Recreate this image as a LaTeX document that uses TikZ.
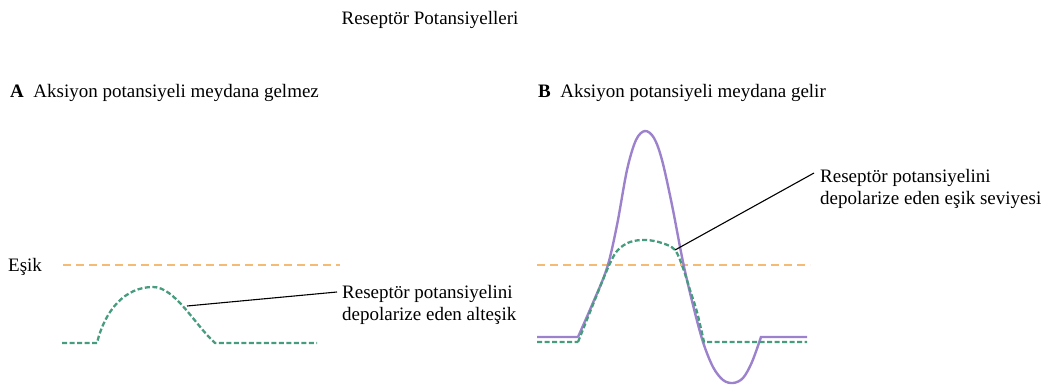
\documentclass[tikz,border=0pt]{standalone}
\usepackage{fontspec}
\setmainfont{Liberation Serif}
\begin{document}
\begin{tikzpicture}[x=1pt,y=-1pt,
  txt/.style={inner sep=0pt,font=\fontsize{19}{22}\selectfont},
  lbl/.style={txt,align=left,anchor=north west},
  thr/.style={draw=orangeT,line width=2.3pt,dash pattern=on 8pt off 5pt},
  rp/.style={draw=greenT,line width=2.3pt,dash pattern=on 5pt off 2.5pt},
  ap/.style={draw=purpleT,line width=2.4pt},
  lead/.style={draw=black,line width=1.1pt}]
\definecolor{orangeT}{HTML}{F5BA73}
\definecolor{greenT}{HTML}{479C7E}
\definecolor{purpleT}{HTML}{9C82CC}
\useasboundingbox (0,0) rectangle (1047,386);
% titles
\node[txt,anchor=base] (title) at (430,24) {Reseptör Potansiyelleri};
\node[txt,anchor=base west] (hA) at (10,97) {\textbf{A}\ \ Aksiyon potansiyeli meydana gelmez};
\node[txt,anchor=base west] (hB) at (538,97) {\textbf{B}\ \ Aksiyon potansiyeli meydana gelir};
\node[txt,anchor=base west] (esik) at (8,271) {Eşik};
% panel A
\draw[thr] (63,265) -- (340,265);
\draw[rp] (62,343) -- (97,343) .. controls (105,310) and (125,287) .. (153,287)
  .. controls (175,287) and (195,325) .. (215,343) -- (317,343);
\coordinate (pA) at (187,306);
\node[lbl] (labA) at (342,285) {Reseptör potansiyelini\\depolarize eden alteşik};
\coordinate (eA) at (337,292);
\draw[lead] (pA) -- (eA);
% panel B
\draw[thr] (537,265) -- (810,265);
\draw[ap] (537,337) -- (578,337)
  plot[smooth,tension=0.55] coordinates {(578,337) (592,305) (607,268) (617,225) (627,170) (636,140) (645,131) (654,138) (662,160) (672,205) (683,262) (693,305) (703,342) (713,367) (723,380) (733,383) (743,378) (752,362) (761,337)}
  -- (807,337);
\draw[rp] (537,342) -- (578,342)
  plot[smooth,tension=0.55] coordinates {(578,342) (590,312) (607,270) (617,251) (630,242) (646,240) (662,243) (675,250) (683,268) (690,290) (697,312) (704,342)}
  -- (807,342);
\coordinate (pB) at (675,250);
\node[lbl] (labB) at (820,169) {Reseptör potansiyelini\\depolarize eden eşik seviyesi};
\coordinate (eB) at (814,173);
\draw[lead] (pB) -- (eB);
\end{tikzpicture}
\end{document}
